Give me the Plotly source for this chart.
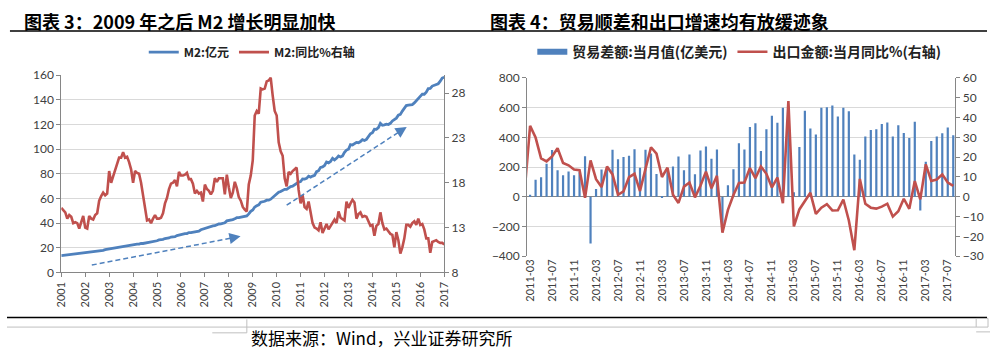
import plotly.graph_objects as go

# ---------------- Data: left chart (monthly, 2001 -> 2017) ----------------
year_labels = ["2001", "2002", "2003", "2004", "2005", "2006", "2007", "2008", "2009",
               "2010", "2011", "2012", "2013", "2014", "2015", "2016", "2017"]

m2_level = [
    13.7, 14.0, 14.0, 14.2, 14.7, 14.6, 14.8, 15.0, 15.0, 15.2, 15.8,
    15.9, 16.0, 16.3, 16.3, 16.6, 17.0, 17.0, 17.3, 17.6, 17.6, 17.9, 18.5,
    18.8, 18.9, 19.4, 19.5, 19.8, 20.4, 20.4, 20.8, 21.2, 21.2, 21.5, 22.1,
    22.3, 22.5, 22.7, 22.9, 23.0, 23.6, 23.5, 23.8, 24.3, 24.1, 24.5, 25.3,
    25.6, 25.7, 26.4, 26.4, 26.8, 27.5, 27.6, 28.0, 28.7, 28.7, 29.0, 29.9,
    30.4, 30.4, 31.0, 31.4, 31.5, 32.3, 32.3, 32.6, 33.1, 33.1, 33.5, 34.6,
    35.2, 35.7, 36.4, 36.7, 37.0, 37.8, 37.9, 38.7, 39.3, 39.4, 39.9, 40.3,
    41.8, 42.1, 42.3, 42.9, 43.6, 44.4, 44.4, 44.9, 45.3, 45.3, 45.8, 47.5,
    49.6, 50.7, 53.1, 54.0, 54.8, 56.9, 57.1, 57.7, 58.6, 58.6, 59.4, 61.0,
    62.6, 63.6, 65.0, 65.6, 66.4, 67.4, 67.4, 68.8, 69.6, 69.9, 71.0, 72.6,
    73.3, 73.7, 75.8, 75.7, 76.3, 78.1, 77.3, 78.1, 78.7, 81.7, 82.5, 85.2,
    85.6, 86.7, 89.6, 88.9, 90.0, 92.5, 91.2, 92.5, 94.4, 93.6, 94.5, 97.4,
    99.2, 99.9, 103.6, 103.3, 104.2, 105.4, 105.2, 106.1, 107.7, 107.0, 107.9, 110.7,
    112.4, 113.3, 116.1, 116.0, 117.4, 120.9, 119.4, 119.7, 120.2, 119.9, 120.9, 122.8,
    124.3, 125.1, 127.5, 128.1, 130.8, 133.3, 135.3, 135.7, 135.9, 136.1, 137.4, 139.2,
    141.6, 142.5, 144.6, 144.5, 146.2, 149.0, 149.2, 151.1, 151.6, 151.9, 153.0, 155.0,
    157.6, 158.3,
]

m2_yoy = [
    15.2, 15.0, 14.7, 14.0, 14.4, 14.2, 13.5, 13.6, 13.5, 12.9, 13.5, 14.3,
    13.0, 12.9, 14.3, 14.0, 13.9, 14.4, 14.6, 16.0, 16.5, 16.9, 16.6, 16.8,
    19.3, 18.0, 18.7, 19.5, 20.2, 20.8, 20.8, 21.4, 20.8, 20.9, 20.3, 19.5,
    18.0, 19.3, 19.1, 19.0, 18.0, 16.5, 15.3, 13.8, 13.9, 13.5, 14.0, 14.4,
    14.0, 14.0, 14.1, 14.6, 15.7, 16.3, 17.3, 17.9, 18.0, 18.3, 17.6, 19.2,
    18.8, 18.8, 18.9, 19.1, 18.4, 18.4, 17.9, 16.8, 17.1, 16.8, 16.9, 15.9,
    17.8, 17.3, 17.1, 16.7, 17.1, 18.5, 18.1, 18.5, 18.5, 18.5, 16.7, 18.9,
    17.5, 16.3, 16.9, 18.1, 17.4, 16.4, 16.0, 15.3, 15.0, 14.8, 17.8, 18.8,
    20.5, 25.5, 26.0, 25.7, 28.5, 28.4, 28.5, 29.3, 29.4, 29.7, 27.7, 26.0,
    25.5, 22.5, 21.5, 21.0, 18.5, 17.6, 19.2, 19.0, 19.3, 19.5, 19.7, 17.2,
    15.7, 16.6, 15.3, 15.1, 15.9, 14.7, 13.5, 13.0, 12.9, 12.7, 13.6, 12.4,
    13.0, 13.4, 12.8, 13.2, 13.6, 13.9, 13.5, 14.8, 14.1, 13.9, 13.8, 15.9,
    15.2, 15.7, 16.1, 15.8, 14.0, 14.5, 14.7, 14.2, 14.3, 14.2, 13.6, 13.2,
    13.3, 12.1, 13.2, 13.4, 14.7, 13.5, 12.8, 12.9, 12.6, 12.3, 12.2, 10.8,
    12.5, 11.6, 10.1, 10.8, 11.8, 13.3, 13.3, 13.1, 13.5, 13.7, 13.3, 14.0,
    13.3, 13.4, 12.8, 11.8, 11.8, 10.2, 11.4, 11.5, 11.6, 11.4, 11.3, 11.3,
    11.1,
]

# ---------------- Data: right chart (monthly, 2011-02 -> 2017-08) ----------------
trade_months = [
    "2011-02", "2011-03", "2011-04", "2011-05", "2011-06", "2011-07", "2011-08", "2011-09", "2011-10", "2011-11", "2011-12",
    "2012-01", "2012-02", "2012-03", "2012-04", "2012-05", "2012-06", "2012-07", "2012-08", "2012-09", "2012-10", "2012-11", "2012-12",
    "2013-01", "2013-02", "2013-03", "2013-04", "2013-05", "2013-06", "2013-07", "2013-08", "2013-09", "2013-10", "2013-11", "2013-12",
    "2014-01", "2014-02", "2014-03", "2014-04", "2014-05", "2014-06", "2014-07", "2014-08", "2014-09", "2014-10", "2014-11", "2014-12",
    "2015-01", "2015-02", "2015-03", "2015-04", "2015-05", "2015-06", "2015-07", "2015-08", "2015-09", "2015-10", "2015-11", "2015-12",
    "2016-01", "2016-02", "2016-03", "2016-04", "2016-05", "2016-06", "2016-07", "2016-08", "2016-09", "2016-10", "2016-11", "2016-12",
    "2017-01", "2017-02", "2017-03", "2017-04", "2017-05", "2017-06", "2017-07", "2017-08",
]

trade_balance = [
    -73, 14, 114, 131, 223, 315, 178, 145, 170, 145, 165,
    272, -315, 53, 184, 187, 317, 252, 267, 277, 320, 196, 316,
    292, 153, -9, 182, 204, 271, 178, 285, 152, 311, 338, 256,
    319, -230, 77, 185, 360, 318, 470, 495, 308, 454, 545, 498,
    600, 606, 31, 335, 580, 460, 420, 600, 603, 614, 541, 600,
    575, 285, 250, 405, 450, 455, 490, 500, 405, 482, 430, 395,
    505, -93, 235, 375, 405, 428, 467, 415,
]

export_yoy = [
    2.4, 35.8, 29.9, 19.4, 17.9, 20.4, 24.5, 17.1, 15.9, 13.8, 13.4,
    -0.5, 18.4, 8.9, 4.9, 15.3, 11.3, 1.0, 2.7, 9.9, 11.6, 2.9, 14.1,
    25.0, 21.8, 10.0, 14.7, 1.0, -3.1, 5.1, 7.2, -0.3, 5.6, 12.7, 4.3,
    10.6, -18.1, -6.6, 0.9, 7.0, 7.2, 14.5, 9.4, 15.3, 11.6, 4.7, 9.7,
    -3.3, 48.3, -15.0, -6.4, -2.5, 2.0, -8.6, -5.5, -3.7, -6.9, -6.8, -1.4,
    -12.0, -27.0, 9.0, -3.5, -5.5, -6.0, -5.0, -3.5, -10.0, -7.3, -1.0, -6.1,
    7.9, -1.3, 16.4, 8.0, 8.7, 11.3, 7.2, 5.5,
]

trade_tick_labels = [
    "2011-03", "2011-07", "2011-11", "2012-03", "2012-07", "2012-11", "2013-03",
    "2013-07", "2013-11", "2014-03", "2014-07", "2014-11", "2015-03", "2015-07",
    "2015-11", "2016-03", "2016-07", "2016-11", "2017-03", "2017-07",
]

# ---------------- Styling ----------------
W, H = 996, 359
BLUE = "#4F81BD"
RED = "#C0504D"
AXIS = "#868686"
GRID = "#D9D9D9"
TICKC = "#404040"
CJK = "Noto Sans CJK SC"
NUM = "Lato"


def px(x):
    return x / W


def py(y):
    return 1 - y / H


idx = list(range(len(m2_level)))
year_pos = [i * 12 for i in range(len(year_labels))]

fig = go.Figure()

fig.add_trace(go.Scatter(x=idx, y=m2_level, xaxis="x", yaxis="y", mode="lines",
                         line=dict(color=BLUE, width=2.8), name="M2:亿元", legend="legend"))
fig.add_trace(go.Scatter(x=idx, y=m2_yoy, xaxis="x", yaxis="y2", mode="lines",
                         line=dict(color=RED, width=2.6), name="M2:同比%右轴", legend="legend"))

fig.add_trace(go.Bar(x=trade_months, y=trade_balance, xaxis="x2", yaxis="y3",
                     marker=dict(color=BLUE, line=dict(width=0)), showlegend=False,
                     name="贸易差额:当月值(亿美元)"))
fig.add_trace(go.Scatter(x=[None], y=[None], xaxis="x2", yaxis="y3", mode="lines",
                         line=dict(color=BLUE, width=6), name="贸易差额:当月值(亿美元)",
                         legend="legend2"))
fig.add_trace(go.Scatter(x=trade_months, y=export_yoy, xaxis="x2", yaxis="y4", mode="lines",
                         line=dict(color=RED, width=2.6), name="出口金额:当月同比%(右轴)",
                         legend="legend2"))

tickfont = dict(family=NUM, size=12, color=TICKC)
xtickfont = dict(family=NUM, size=11, color=TICKC)

fig.update_layout(
    width=W, height=H, autosize=False,
    margin=dict(l=0, r=0, t=0, b=0),
    paper_bgcolor="white", plot_bgcolor="white",
    bargap=0.6,
    xaxis=dict(domain=[px(55), px(443)], range=[0, 192], tickmode="array",
               tickvals=year_pos, ticktext=year_labels, tickangle=-90,
               showline=True, linecolor=AXIS, linewidth=1, ticks="outside", ticklen=4,
               tickcolor=AXIS, showgrid=False, zeroline=False, anchor="y", tickfont=xtickfont),
    yaxis=dict(domain=[py(276), py(70)], range=[0, 160], dtick=20, showgrid=True,
               gridcolor=GRID, gridwidth=1, showline=True, linecolor=AXIS, ticks="outside",
               ticklen=4, tickcolor=AXIS, zeroline=False, anchor="x", tickfont=tickfont),
    yaxis2=dict(overlaying="y", side="right", anchor="x", range=[8, 30],
                tickmode="array", tickvals=[8, 13, 18, 23, 28], showgrid=False,
                showline=True, linecolor=AXIS, ticks="outside", ticklen=4, tickcolor=AXIS,
                zeroline=False, tickfont=tickfont),
    xaxis2=dict(domain=[px(527), px(961)], type="category", range=[0.46, 78.4],
                tickmode="array", tickvals=trade_tick_labels, ticktext=trade_tick_labels,
                tickangle=-90, showline=False, ticks="", showgrid=False, zeroline=False,
                anchor="y3", tickfont=xtickfont),
    yaxis3=dict(domain=[py(259), py(73)], range=[-400, 800], dtick=200, showgrid=True,
                gridcolor=GRID, gridwidth=1, zeroline=True, zerolinecolor=AXIS,
                zerolinewidth=1, showline=True, linecolor=AXIS, ticks="outside", ticklen=4,
                tickcolor=AXIS, anchor="x2", tickfont=tickfont),
    yaxis4=dict(overlaying="y3", side="right", anchor="x2", range=[-30, 60], dtick=10,
                showgrid=False, zeroline=False, showline=True, linecolor=AXIS,
                ticks="outside", ticklen=4, tickcolor=AXIS, tickfont=tickfont),
    legend=dict(orientation="h", x=px(248), xanchor="center", y=py(46), yanchor="middle",
                font=dict(family=CJK, size=12, color="#222222", weight="bold"),
                bgcolor="rgba(0,0,0,0)", itemwidth=30),
    legend2=dict(orientation="h", x=px(742), xanchor="center", y=py(46), yanchor="middle",
                 font=dict(family=CJK, size=14, color="#222222", weight="bold"),
                 bgcolor="rgba(0,0,0,0)", itemwidth=30),
)

# decorative page lines
shapes = [
    dict(type="line", xref="paper", yref="paper", x0=px(3), x1=px(993), y0=py(24), y1=py(24),
         line=dict(color="black", width=1.5)),
    dict(type="line", xref="paper", yref="paper", x0=0, x1=px(993), y0=py(323), y1=py(323),
         line=dict(color="black", width=1.5)),
    dict(type="line", xref="paper", yref="paper", x0=0, x1=px(982), y0=py(333), y1=py(333),
         line=dict(color="#BFBFBF", width=1)),
    dict(type="line", xref="paper", yref="paper", x0=px(243), x1=px(243), y0=py(325), y1=py(339),
         line=dict(color="#BFBFBF", width=1)),
    dict(type="line", xref="paper", yref="paper", x0=px(208), x1=px(243), y0=py(339), y1=py(339),
         line=dict(color="#BFBFBF", width=1)),
    dict(type="rect", xref="paper", yref="paper", x0=px(982), x1=px(994), y0=py(333), y1=py(324),
         line=dict(color="#BFBFBF", width=1)),
    dict(type="line", xref="paper", yref="paper", x0=px(982), x1=1, y0=py(338), y1=py(338),
         line=dict(color="#BFBFBF", width=1)),
]

# dashed trend arrows (left chart, in data coordinates)
arrows = [((15.3, 6.0), (89.9, 29.3)), ((113.0, 54.5), (173.2, 118.0))]
annotations = []
for (x0, y0), (x1, y1) in arrows:
    shapes.append(dict(type="line", xref="x", yref="y", x0=x0, y0=y0, x1=x1, y1=y1,
                       line=dict(color=BLUE, width=1.5, dash="5px,3px")))
    annotations.append(dict(x=x1, y=y1, ax=x1 - 0.04 * (x1 - x0), ay=y1 - 0.04 * (y1 - y0),
                            xref="x", yref="y", axref="x", ayref="y", text="",
                            showarrow=True, arrowhead=2, arrowsize=1.4, arrowwidth=1.6,
                            arrowcolor=BLUE))

annotations += [
    dict(x=px(15), y=py(13.5), xref="paper", yref="paper", xanchor="left", yanchor="middle",
         text="<b>图表 3：2009 年之后 M2 增长明显加快</b>", showarrow=False,
         font=dict(family=CJK, size=18, color="black")),
    dict(x=px(487), y=py(13.5), xref="paper", yref="paper", xanchor="left", yanchor="middle",
         text="<b>图表 4：贸易顺差和出口增速均有放缓迹象</b>", showarrow=False,
         font=dict(family=CJK, size=18, color="black")),
    dict(x=px(245), y=0, xref="paper", yref="paper", xanchor="left", yanchor="bottom",
         text="数据来源：Wind，兴业证券研究所", showarrow=False,
         font=dict(family=CJK, size=17, color="black")),
]

fig.update_layout(shapes=shapes, annotations=annotations)

# remove the browser's default 8px body margin so the figure fills the window exactly
fig.write_html("out.html", config={"displayModeBar": False},
               post_script="document.body.style.margin='0';")
